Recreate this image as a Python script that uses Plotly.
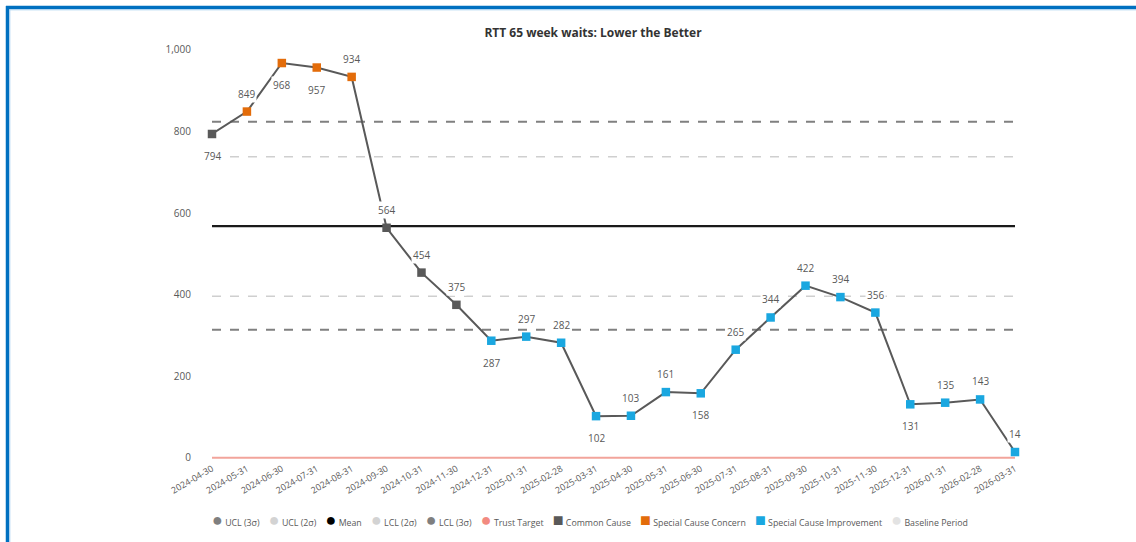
import plotly.graph_objects as go

# ---- data ----
months = ["2024-04-30", "2024-05-31", "2024-06-30", "2024-07-31", "2024-08-31", "2024-09-30",
          "2024-10-31", "2024-11-30", "2024-12-31", "2025-01-31", "2025-02-28", "2025-03-31",
          "2025-04-30", "2025-05-31", "2025-06-30", "2025-07-31", "2025-08-31", "2025-09-30",
          "2025-10-31", "2025-11-30", "2025-12-31", "2026-01-31", "2026-02-28", "2026-03-31"]
waits = [794, 849, 968, 957, 934, 564, 454, 375, 287, 297, 282, 102,
         103, 161, 158, 265, 344, 422, 394, 356, 131, 135, 143, 14]
# point classification: C = common cause, H = special cause concern, L = special cause improvement
variation = ["C", "H", "H", "H", "H", "C", "C", "C", "L", "L", "L", "L",
             "L", "L", "L", "L", "L", "L", "L", "L", "L", "L", "L", "L"]
# label placement: +1 above the point, -1 below
label_side = [-1, 1, -1, -1, 1, 1, 1, 1, -1, 1, 1, -1,
              1, 1, -1, 1, 1, 1, 1, 1, -1, 1, 1, 1]

mean_val = 568
ucl3, ucl2 = 824, 738
lcl2, lcl3 = 396, 314
trust_target = 0
y_ticks = [0, 200, 400, 600, 800, 1000]

# ---- styling ----
GREY = "#595959"
ORANGE = "#E36C0A"
BLUE = "#1AA7E0"
point_colours = {"C": GREY, "H": ORANGE, "L": BLUE}

W, H = 1136, 542
PX_PER_UNIT = 0.408
ZERO_PX = 458
Y_MIN = -8
ML, MR, MT = 212, 121, 40
MB = H - (ZERO_PX - Y_MIN * PX_PER_UNIT)
plot_w = W - ML - MR
plot_h = H - MT - MB
y_top = (ZERO_PX - MT) / PX_PER_UNIT

fig = go.Figure()

n = len(months)


def hline(value, colour, width, dash):
    fig.add_trace(go.Scatter(x=months, y=[value] * n, mode="lines",
                             line=dict(color=colour, width=width, dash=dash),
                             hoverinfo="skip", showlegend=False, cliponaxis=False))


hline(ucl3, "#808080", 2, "dash")
hline(ucl2, "#cfcfcf", 1.5, "dash")
hline(lcl2, "#cfcfcf", 1.5, "dash")
hline(lcl3, "#808080", 2, "dash")
hline(mean_val, "#1a1a1a", 2.2, "solid")
hline(trust_target, "#F2A49B", 2.2, "solid")

fig.add_trace(go.Scatter(
    x=months, y=waits, mode="lines+markers",
    line=dict(color=GREY, width=2),
    marker=dict(symbol="square", size=8.5, color=[point_colours[v] for v in variation]),
    showlegend=False, cliponaxis=False))

# value labels with white boxes
for m, v, s in zip(months, waits, label_side):
    fig.add_annotation(x=m, y=v, text=str(v), showarrow=False,
                       yshift=18 if s > 0 else -22, bgcolor="white", borderpad=1,
                       font=dict(family="Open Sans", size=10, color=GREY))

# key row beneath the chart
legend_items = [
    ("UCL (3σ)", "●", "#7f7f7f"),
    ("UCL (2σ)", "●", "#d3d3d3"),
    ("Mean", "●", "#000000"),
    ("LCL (2σ)", "●", "#d3d3d3"),
    ("LCL (3σ)", "●", "#7f7f7f"),
    ("Trust Target", "●", "#F28A80"),
    ("Common Cause", "■", GREY),
    ("Special Cause Concern", "■", ORANGE),
    ("Special Cause Improvement", "■", BLUE),
    ("Baseline Period", "●", "#e3e3e3"),
]
key_parts = [f'<span style="color:{col};font-size:18px">{sym}</span>&nbsp;{name}'
             for name, sym, col in legend_items]
fig.add_annotation(xref="paper", yref="paper",
                   x=(590 - ML) / plot_w, y=(H - MB - 519) / plot_h,
                   xanchor="center", yanchor="middle", showarrow=False,
                   text="&nbsp;&nbsp;&nbsp;&nbsp;".join(key_parts),
                   font=dict(family="Open Sans", size=8.8, color=GREY))


# frame accent on the top and left edges
def px_x(p):
    return (p - ML) / plot_w


def px_y(p):
    return (H - MB - p) / plot_h


frame = [
    dict(x0=px_x(7.5), x1=px_x(7.5), y0=px_y(H + 5), y1=px_y(6), color="#0070C0", width=3.5),
    dict(x0=px_x(6), x1=px_x(W + 5), y0=px_y(7.5), y1=px_y(7.5), color="#0070C0", width=3.5),
    dict(x0=px_x(9.8), x1=px_x(9.8), y0=px_y(H + 5), y1=px_y(9.8), color="#A9D1F0", width=1),
    dict(x0=px_x(9.8), x1=px_x(W + 5), y0=px_y(9.8), y1=px_y(9.8), color="#A9D1F0", width=1),
]
for f in frame:
    fig.add_shape(type="line", xref="paper", yref="paper",
                  x0=f["x0"], x1=f["x1"], y0=f["y0"], y1=f["y1"],
                  line=dict(color=f["color"], width=f["width"]))

fig.update_layout(
    width=W, height=H,
    margin=dict(l=ML, r=MR, t=MT, b=MB, autoexpand=False),
    paper_bgcolor="white", plot_bgcolor="white",
    showlegend=False,
    title=dict(text="<b>RTT 65 week waits: Lower the Better</b>",
               x=593 / W, xanchor="center", y=1 - 33 / H, yanchor="middle",
               font=dict(family="Open Sans", size=12, color="#333333")),
    xaxis=dict(type="category", range=[0, n - 1], showgrid=False, zeroline=False,
               showline=False, ticks="", tickangle=-30, automargin=False,
               tickfont=dict(family="Open Sans", size=9, color=GREY)),
    yaxis=dict(range=[Y_MIN, y_top], tickvals=y_ticks, tickformat=",d",
               showgrid=False, zeroline=False, showline=False, ticks="",
               ticklabelstandoff=20, automargin=False,
               tickfont=dict(family="Open Sans", size=10, color=GREY)),
)

fig.write_html("out.html")
